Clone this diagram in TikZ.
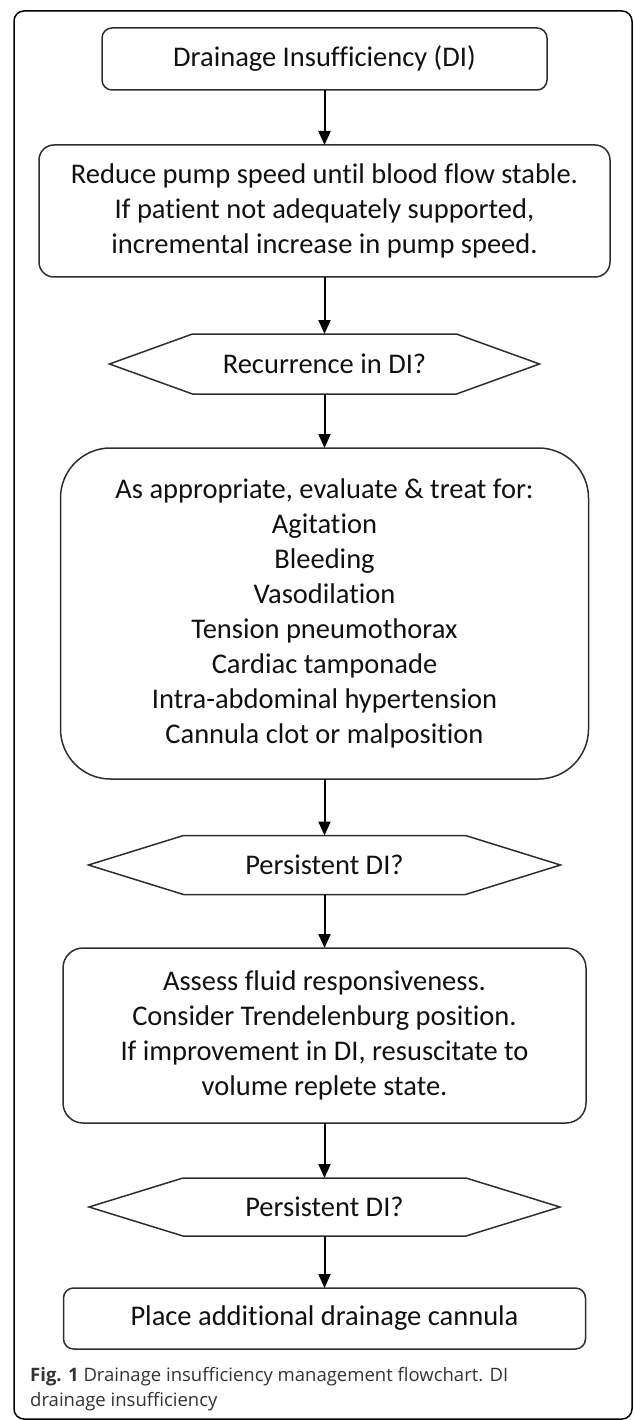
\documentclass[tikz,border=0pt]{standalone}
\usepackage{fontspec}
\setmainfont{Carlito}[Ligatures={NoCommon,NoContextual}]
\newfontfamily\capfont{Open Sans}
\usetikzlibrary{arrows.meta,calc}
\definecolor{boxline}{HTML}{2E2E2E}
\definecolor{captxt}{HTML}{333333}
\definecolor{boxtxt}{HTML}{111111}
\begin{document}
\begin{tikzpicture}[x=1pt,y=-1pt,
  box/.style={draw=boxline, line width=1.5pt, align=center, inner sep=0pt, outer sep=0pt,
    font=\fontsize{28.5}{35}\selectfont, text=boxtxt},
  decision/.style={align=center, inner sep=0pt, outer sep=0pt,
    font=\fontsize{28.5}{35}\selectfont, text=boxtxt},
  hexline/.style={draw=boxline, line width=1.5pt},
  flow/.style={line width=2pt, -{Triangle[length=14pt,width=12pt]}},
  frame/.style={draw=black, line width=1.5pt, rounded corners=10pt},
  caption/.style={anchor=west, align=left, inner sep=0pt, text=captxt,
    font=\capfont\fontsize{18.5}{25}\selectfont}
]
\useasboundingbox (0,0) rectangle (633,1420);
\draw[frame] (14,11) rectangle (632,1419);

\node[box, rounded corners=10pt, minimum width=445pt, minimum height=62pt] (b1) at (324.5,59) {Drainage Insufficiency (DI)};
\node[box, rounded corners=15pt, minimum width=571pt, minimum height=132pt] (b2) at (324.5,211)
  {Reduce pump speed until blood flow stable.\\If patient not adequately supported,\\incremental increase in pump speed.};
\node[decision, minimum width=430pt, minimum height=60pt] (d1) at (324.5,364) {Recurrence in DI?};
\draw[hexline] (d1.west) -- ($(d1.north west)+(83,0)$) -- ($(d1.north east)+(-83,0)$) -- (d1.east)
  -- ($(d1.south east)+(-83,0)$) -- ($(d1.south west)+(83,0)$) -- cycle;
\node[box, rounded corners=50pt, minimum width=528pt, minimum height=331pt] (b3) at (324.5,613.5)
  {As appropriate, evaluate \& treat for:\\Agitation\\Bleeding\\Vasodilation\\Tension pneumothorax\\Cardiac tamponade\\Intra-abdominal hypertension\\Cannula clot or malposition};
\node[decision, minimum width=472pt, minimum height=59pt] (d2) at (324.5,865) {Persistent DI?};
\draw[hexline] (d2.west) -- ($(d2.north west)+(95,0)$) -- ($(d2.north east)+(-95,0)$) -- (d2.east)
  -- ($(d2.south east)+(-95,0)$) -- ($(d2.south west)+(95,0)$) -- cycle;
\node[box, rounded corners=20pt, minimum width=523pt, minimum height=175pt] (b4) at (324.5,1035.5)
  {Assess fluid responsiveness.\\Consider Trendelenburg position.\\If improvement in DI, resuscitate to\\volume replete state.};
\node[decision, minimum width=471pt, minimum height=58pt] (d3) at (324.5,1207) {Persistent DI?};
\draw[hexline] (d3.west) -- ($(d3.north west)+(94,0)$) -- ($(d3.north east)+(-94,0)$) -- (d3.east)
  -- ($(d3.south east)+(-94,0)$) -- ($(d3.south west)+(94,0)$) -- cycle;
\node[box, rounded corners=10pt, minimum width=522pt, minimum height=61pt] (b5) at (324.5,1318.5) {Place additional drainage cannula};

\draw[flow] (b1.south) -- (b2.north);
\draw[flow] (b2.south) -- (d1.north);
\draw[flow] (d1.south) -- (b3.north);
\draw[flow] (b3.south) -- (d2.north);
\draw[flow] (d2.south) -- (b4.north);
\draw[flow] (b4.south) -- (d3.north);
\draw[flow] (d3.south) -- (b5.north);

\node[caption] (cap) at (30,1389) {\textbf{Fig. 1} Drainage insufficiency management flowchart. DI\\drainage insufficiency};
\end{tikzpicture}
\end{document}
